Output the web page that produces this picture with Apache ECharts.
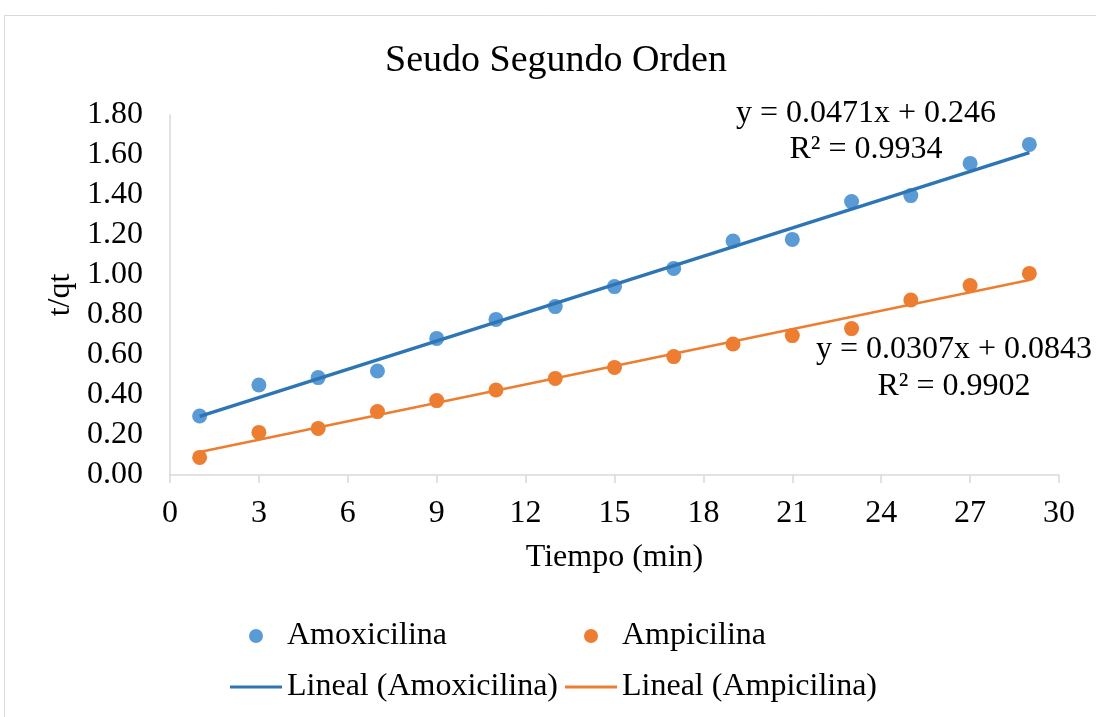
<!DOCTYPE html>
<html>
<head>
<meta charset="utf-8">
<title>Seudo Segundo Orden</title>
<script src="https://cdn.jsdelivr.net/npm/echarts@6/dist/echarts.min.js"></script>
<style>
  html, body { margin: 0; padding: 0; background: #ffffff; }
  #chart { width: 1096px; height: 717px; }
</style>
</head>
<body>
<div id="chart"></div>
<script>
// Time points (min)
const tiempo = [1, 3, 5, 7, 9, 11, 13, 15, 17, 19, 21, 23, 25, 27, 29];
// t/qt values for each antibiotic
const amoxicilina = [0.295, 0.450, 0.487, 0.520, 0.683, 0.778, 0.842, 0.942, 1.033, 1.170, 1.178, 1.367, 1.397, 1.558, 1.653];
const ampicilina  = [0.088, 0.213, 0.233, 0.317, 0.372, 0.425, 0.483, 0.538, 0.592, 0.655, 0.697, 0.732, 0.875, 0.947, 1.008];
// Linear fit coefficients: [Amoxicilina, Ampicilina]
const pendientes = [0.0471, 0.0307];
const interceptos = [0.246, 0.0843];
const r2 = ['0.9934', '0.9902'];
const xTicks = [0, 3, 6, 9, 12, 15, 18, 21, 24, 27, 30];
const yTicks = [0, 0.2, 0.4, 0.6, 0.8, 1.0, 1.2, 1.4, 1.6, 1.8];

const FONT = '"Liberation Serif", "Times New Roman", serif';
const BLUE = '#5B9BD5', ORANGE = '#ED7D31', BLUE_LINE = '#2E75B6';

const pares = (xs, ys) => xs.map((x, i) => [x, ys[i]]);
const recta = (k) => {
  const x0 = tiempo[0], x1 = tiempo[tiempo.length - 1];
  return [[x0, pendientes[k] * x0 + interceptos[k]], [x1, pendientes[k] * x1 + interceptos[k]]];
};
const ecuacion = (k) => 'y = ' + pendientes[k] + 'x + ' + interceptos[k] + '\nR\u00B2 = ' + r2[k];

const chart = echarts.init(document.getElementById('chart'));

const legendBase = {
  orient: 'horizontal', padding: 0, itemWidth: 52, itemGap: 0,
  textStyle: { fontFamily: FONT, fontSize: 32, color: '#000' }
};

chart.setOption({
  animation: false,
  backgroundColor: '#ffffff',
  title: {
    text: 'Seudo Segundo Orden',
    left: 385, top: 42, padding: 0,
    textStyle: { fontFamily: FONT, fontSize: 38, fontWeight: 'normal', color: '#000' }
  },
  graphic: [
    { type: 'rect', silent: true, z: -10,
      shape: { x: 4.5, y: 15.5, width: 1200, height: 800 },
      style: { fill: 'none', stroke: '#d9d9d9', lineWidth: 1 } },
    { type: 'text', x: 866, y: 132, z: 10,
      style: { text: ecuacion(0), align: 'center', verticalAlign: 'middle',
               font: '32px ' + FONT, fill: '#000', lineHeight: 36 } },
    { type: 'text', x: 954, y: 368, z: 10,
      style: { text: ecuacion(1), align: 'center', verticalAlign: 'middle',
               font: '32px ' + FONT, fill: '#000', lineHeight: 37 } }
  ],
  legend: [
    Object.assign({}, legendBase, { data: [{ name: 'Amoxicilina', icon: 'circle' }], left: 249, top: 620, itemHeight: 14 }),
    Object.assign({}, legendBase, { data: [{ name: 'Ampicilina', icon: 'circle' }], left: 584, top: 620, itemHeight: 14 }),
    Object.assign({}, legendBase, { data: [{ name: 'Lineal (Amoxicilina)', icon: 'rect' }], left: 230, top: 671, itemHeight: 3 }),
    Object.assign({}, legendBase, { data: [{ name: 'Lineal (Ampicilina)', icon: 'rect' }], left: 565, top: 671, itemHeight: 3 })
  ],
  grid: { left: 170, right: 37, top: 115, bottom: 242, containLabel: false },
  xAxis: {
    type: 'value', min: xTicks[0], max: xTicks[xTicks.length - 1], interval: xTicks[1] - xTicks[0],
    name: 'Tiempo (min)', nameLocation: 'middle', nameGap: 67,
    nameTextStyle: { fontFamily: FONT, fontSize: 32, color: '#000' },
    axisLine: { show: true, onZero: false, lineStyle: { color: '#d9d9d9', width: 1.5 } },
    axisTick: { show: true, length: 8, lineStyle: { color: '#d9d9d9', width: 1.5 } },
    axisLabel: { fontFamily: FONT, fontSize: 32, color: '#000', margin: 23 },
    splitLine: { show: false }
  },
  yAxis: {
    type: 'value', min: yTicks[0], max: yTicks[yTicks.length - 1], interval: 0.2,
    name: 't/qt', nameLocation: 'middle', nameGap: 90, nameRotate: 90,
    nameTextStyle: { fontFamily: FONT, fontSize: 32, color: '#000' },
    axisLine: { show: true, onZero: false, lineStyle: { color: '#d9d9d9', width: 1.5 } },
    axisTick: { show: false },
    axisLabel: { fontFamily: FONT, fontSize: 32, color: '#000', margin: 27,
                 formatter: (v) => v.toFixed(2) },
    splitLine: { show: false }
  },
  series: [
    { name: 'Amoxicilina', type: 'scatter', data: pares(tiempo, amoxicilina),
      symbol: 'circle', symbolSize: 15, itemStyle: { color: BLUE, opacity: 1 } },
    { name: 'Ampicilina', type: 'scatter', data: pares(tiempo, ampicilina),
      symbol: 'circle', symbolSize: 15, itemStyle: { color: ORANGE, opacity: 1 } },
    { name: 'Lineal (Amoxicilina)', type: 'line', data: recta(0), showSymbol: false, symbol: 'none',
      lineStyle: { color: BLUE_LINE, width: 3.5 }, itemStyle: { color: BLUE_LINE } },
    { name: 'Lineal (Ampicilina)', type: 'line', data: recta(1), showSymbol: false, symbol: 'none',
      lineStyle: { color: ORANGE, width: 2.5 }, itemStyle: { color: ORANGE } }
  ]
});
</script>
</body>
</html>
